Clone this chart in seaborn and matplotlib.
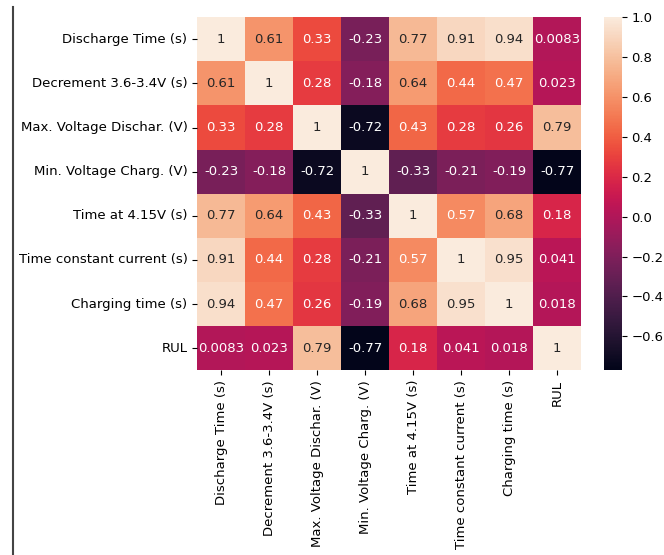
import numpy as np
import pandas as pd
import matplotlib
matplotlib.use('Agg')
import matplotlib.pyplot as plt
import seaborn as sns

labels = ['Discharge Time (s)', 'Decrement 3.6-3.4V (s)', 'Max. Voltage Dischar. (V)',
          'Min. Voltage Charg. (V)', 'Time at 4.15V (s)', 'Time constant current (s)',
          'Charging time (s)', 'RUL']

row_discharge = [1, 0.61, 0.33, -0.23, 0.77, 0.91, 0.94, 0.0083]
row_decrement = [0.61, 1, 0.28, -0.18, 0.64, 0.44, 0.47, 0.023]
row_maxv = [0.33, 0.28, 1, -0.72, 0.43, 0.28, 0.26, 0.79]
row_minv = [-0.23, -0.18, -0.72, 1, -0.33, -0.21, -0.19, -0.77]
row_t415 = [0.77, 0.64, 0.43, -0.33, 1, 0.57, 0.68, 0.18]
row_tcc = [0.91, 0.44, 0.28, -0.21, 0.57, 1, 0.95, 0.041]
row_charging = [0.94, 0.47, 0.26, -0.19, 0.68, 0.95, 1, 0.018]
row_rul = [0.0083, 0.023, 0.79, -0.77, 0.18, 0.041, 0.018, 1]

corr = pd.DataFrame([row_discharge, row_decrement, row_maxv, row_minv,
                     row_t415, row_tcc, row_charging, row_rul],
                    index=labels, columns=labels)

plt.rcParams['font.size'] = 9.5

fig = plt.figure(figsize=(6.64, 5.55), dpi=100)
ax = fig.add_axes([0.297, 0.333, 0.578, 0.636])
cax = fig.add_axes([0.910, 0.333, 0.026, 0.636])
sns.heatmap(corr, annot=True, ax=ax, cbar_ax=cax, annot_kws={'size': 9.5})
ax.tick_params(labelsize=9.5)
cax.tick_params(labelsize=9.5)

# linea del recorte a la izquierda
fig.add_artist(plt.Line2D([0.019, 0.019], [0.0, 0.987], color='#444444', lw=1.5))

fig.savefig('out.png', dpi=100)
